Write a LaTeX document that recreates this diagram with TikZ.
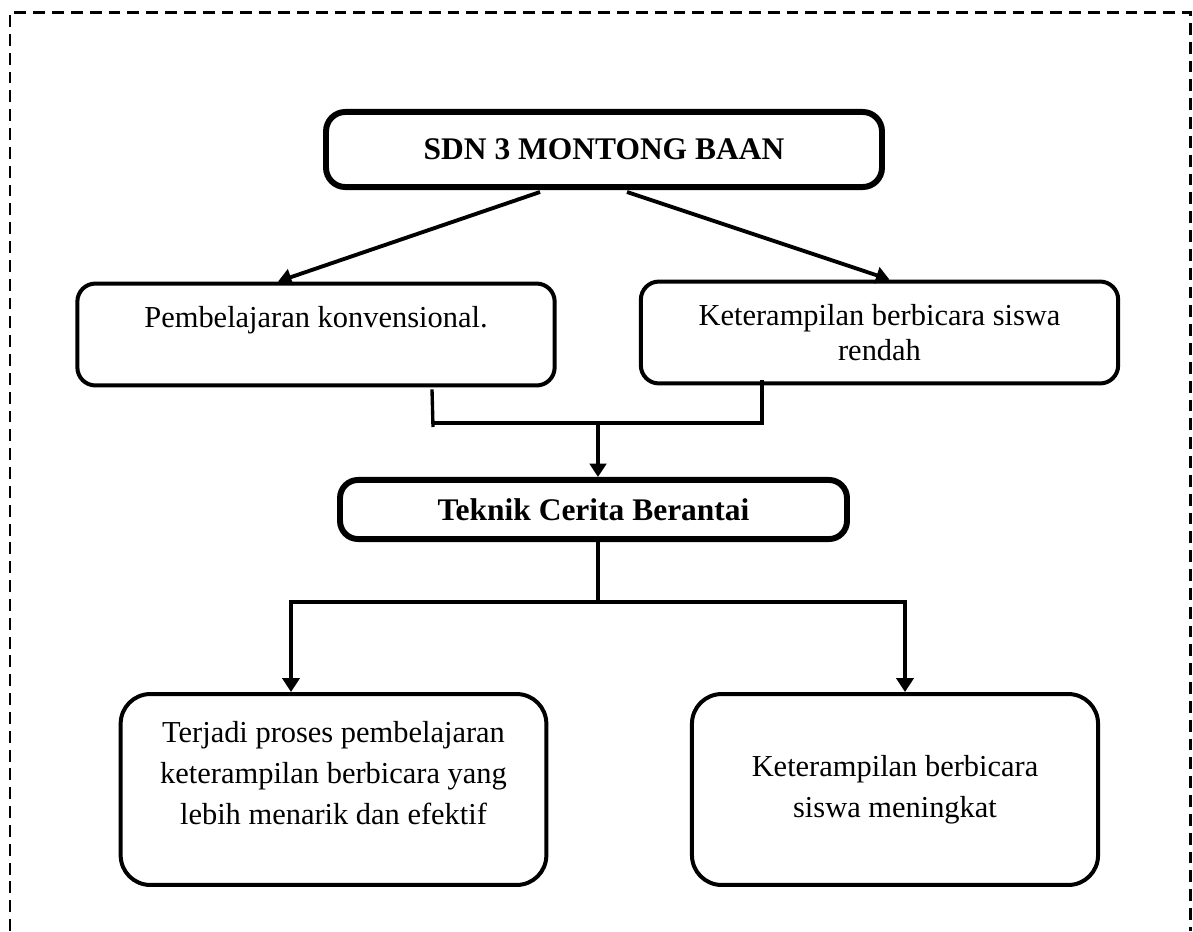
\documentclass[tikz,border=0pt]{standalone}
\usepackage{fontspec}
\setmainfont{Liberation Serif}
\usetikzlibrary{arrows.meta,% triangle arrow tips
calc}%                  shifts from named nodes
\tikzset{every node/.style={font=\fontsize{11.8}{13.4}\selectfont},
  headbox/.style={draw, line width=2.3pt, rounded corners=7.5pt, align=center, inner sep=0pt,
    font=\fontsize{12.2}{14}\selectfont\bfseries},
  midbox/.style={draw, line width=1.55pt, rounded corners=7pt, align=center, inner sep=0pt,
    minimum width=185pt, minimum height=39.5pt},
  lowbox/.style={draw, line width=1.55pt, rounded corners=11.5pt, align=center, inner sep=0pt,
    minimum height=74pt, font=\fontsize{11.8}{15.9}\selectfont},
  link/.style={line width=1.3pt},
  arr/.style={line width=1.5pt, -{Triangle[length=5.2pt,width=6.4pt]}},
  arrlow/.style={line width=1.8pt, -{Triangle[length=5.4pt,width=6.6pt]}},
  frame/.style={line width=1.15pt, dash pattern=on 4.6pt off 2.7pt}}

\begin{document}
\begin{tikzpicture}[x=0.3876pt, y=-0.3876pt]
  \useasboundingbox (0,0) rectangle (1193,931);
  \draw[frame] (10,931) -- (10,12.5) -- (1190.5,12.5) -- (1190.5,931);

  \node[headbox, minimum width=215.5pt, minimum height=29.1pt] (sdn) at (604,149.5) {SDN 3 MONTONG BAAN};
  \node[midbox] (konv) at (316,334.5) {Pembelajaran konvensional.\\\mbox{}};
  \node[midbox] (rendah) at (879.5,332.5) {Keterampilan berbicara siswa\\rendah};
  \node[headbox, minimum width=196.5pt, minimum height=22.9pt, rounded corners=7pt] (teknik) at (593.5,509.5) {Teknik Cerita Berantai};
  \node[lowbox, minimum width=165pt, text depth=12.6pt] (proses) at (333.5,789.5) {Terjadi proses pembelajaran\\keterampilan berbicara yang\\lebih menarik dan efektif};
  \node[lowbox, minimum width=157.4pt] (naik) at (895,789.5) {Keterampilan berbicara\\siswa meningkat};

  \draw[arr] ($(sdn.south)+(-64,2)$) -- ($(konv.north)+(-38,0)$);
  \draw[arr] ($(sdn.south)+(23,2)$) -- ($(rendah.north)+(10,0)$);

  \coordinate (jl) at (433,423);
  \coordinate (jr) at (762,423);
  \coordinate (join) at (598,423);
  \draw[link] ($(konv.south)+(116,2)$) -- ($(jl)+(0,4)$);
  \draw[link] (jl) -- (jr) -- ($(jr |- rendah.south)+(0,-5)$);
  \draw[arr] (join) -- (join |- teknik.north);

  \coordinate (split) at (598,602);
  \coordinate (bl) at (291,602);
  \coordinate (br) at (905,602);
  \draw[link, line width=1.8pt] (split |- teknik.south) -- (split);
  \draw[arrlow] (split) -- (bl) -- (bl |- proses.north);
  \draw[arrlow] (split) -- (br) -- (br |- naik.north);
\end{tikzpicture}
\end{document}
